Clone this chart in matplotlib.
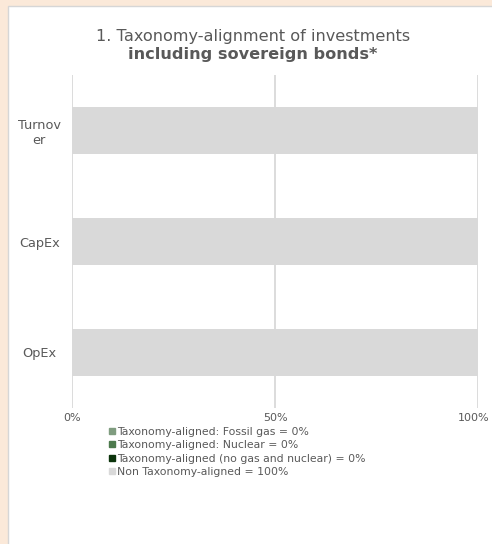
import matplotlib.pyplot as plt
from matplotlib.lines import Line2D
from matplotlib.patches import Rectangle
from matplotlib.transforms import ScaledTranslation
import numpy as np

W, H = 492, 544
DPI = 100

categories = ["Turnov\ner", "CapEx", "OpEx"]
series_names = [
    "Taxonomy-aligned: Fossil gas",
    "Taxonomy-aligned: Nuclear",
    "Taxonomy-aligned (no gas and nuclear)",
    "Non Taxonomy-aligned",
]
series_colors = ["#7f9c7f", "#4d7a4d", "#0b330b", "#d9d9d9"]
fossil_gas = [0, 0, 0]
nuclear = [0, 0, 0]
aligned_other = [0, 0, 0]
non_aligned = [100, 100, 100]
legend_values = [0, 0, 0, 100]

TEXT = "#595959"
GRID = "#d9d9d9"

fig = plt.figure(figsize=(W / DPI, H / DPI), dpi=DPI, facecolor="#fbe9d9")
plt.rcParams["font.family"] = ["DejaVu Sans"]

# white card with a thin border, kept behind the axes
card = Rectangle((8 / W, -0.01), 1, 1.01 - 6 / H, transform=fig.transFigure,
                 facecolor="white", edgecolor="#d6d6d6", lw=1.0, zorder=-5)
fig.patches.append(card)


def px(x0, y0, x1, y1):
    return [x0 / W, 1 - y1 / H, (x1 - x0) / W, (y1 - y0) / H]


ax = fig.add_axes(px(72, 75, 478, 408))
ax.set_facecolor("none")

y = np.arange(len(categories))
left = np.zeros(len(categories))
for vals, color in zip([fossil_gas, nuclear, aligned_other, non_aligned], series_colors):
    ax.barh(y, vals, left=left, height=0.42, color=color, zorder=2)
    left += np.array(vals)

ax.set_xlim(0, 100)
ax.set_ylim(len(categories) - 0.5, -0.5)
ax.set_xticks([0, 50, 100])
ax.set_xticklabels(["0%", "50%", "100%"])
ax.set_yticks(y)
ax.set_yticklabels(categories, ha="center", linespacing=1.25)
# pads are in points: centre the row labels ~32 px left of the axes
ax.tick_params(axis="y", length=0, pad=23.5, labelsize=9.3, labelcolor=TEXT)
ax.tick_params(axis="x", length=0, pad=3.5, labelsize=8, labelcolor=TEXT)
ax.grid(axis="x", color=GRID, lw=1.3, zorder=0)
for s in ax.spines.values():
    s.set_visible(False)

# nudge the last x label so it stays inside the card
last = ax.get_xticklabels()[-1]
last.set_transform(last.get_transform() + ScaledTranslation(-4 / DPI, 0, fig.dpi_scale_trans))

fig.text(253 / W, 1 - 37 / H, "1. Taxonomy-alignment of investments",
         ha="center", va="center", fontsize=11.6, color=TEXT)
fig.text(253 / W, 1 - 55 / H, "including sovereign bonds*",
         ha="center", va="center", fontsize=11.6, color=TEXT, fontweight="bold")

handles = [Line2D([], [], marker="s", ls="none", color=c, markersize=5) for c in series_colors]
labels = [f"{n} = {v}%" for n, v in zip(series_names, legend_values)]
fig.legend(handles, labels, loc="upper left", bbox_to_anchor=(109 / W, 1 - 427 / H),
           frameon=False, fontsize=7.8, labelcolor=TEXT, handlelength=0.6,
           handletextpad=0.15, labelspacing=0.3, borderpad=0, borderaxespad=0)

fig.savefig("out.png", dpi=DPI, facecolor=fig.get_facecolor())
